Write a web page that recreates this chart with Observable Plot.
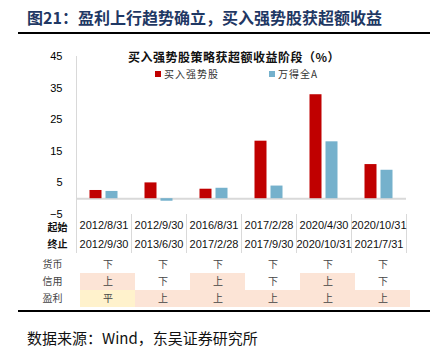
<!DOCTYPE html>
<html><head><meta charset="utf-8">
<script src="https://cdn.jsdelivr.net/npm/d3@7"></script>
<script src="https://cdn.jsdelivr.net/npm/@observablehq/plot@0.6"></script>
<style>
body{margin:0;background:#fff;}
#page{position:relative;width:439px;height:352px;overflow:hidden;font-family:"Noto Sans CJK SC",sans-serif;}
.abs{position:absolute;white-space:nowrap;}
#title{left:27px;top:6px;font-size:16px;font-weight:bold;color:#1F3864;line-height:22px;}
.hline{position:absolute;left:18px;width:412px;height:2px;background:#000;}
#ctitle{left:128px;top:49px;font-size:12px;font-weight:bold;color:#111;line-height:16px;letter-spacing:0.5px;}
.leg{top:67px;font-size:10px;line-height:14px;color:#333;letter-spacing:1px;}
.sw{display:inline-block;width:6px;height:6px;margin-right:3px;vertical-align:1px;}
#source{left:27px;top:328px;font-size:15px;line-height:20px;color:#111;}
#chart{position:absolute;left:0;top:40px;}
#table{position:absolute;left:0;top:256px;}
</style>
</head><body>
<div id="page">
  <div id="title" class="abs">图21：盈利上行趋势确立，买入强势股获超额收益</div>
  <div class="hline" style="top:32px"></div>
  <div id="chart"></div>
  <div id="table"></div>
  <div id="ctitle" class="abs"></div>
  <div id="leg1" class="abs leg" style="left:155px"></div>
  <div id="leg2" class="abs leg" style="left:269px"></div>
  <div class="hline" style="top:310px"></div>
  <div id="source" class="abs">数据来源：Wind，东吴证券研究所</div>
</div>
<script>
const chartTitle = "买入强势股策略获超额收益阶段（%）";
const seriesNames = ["买入强势股", "万得全A"];
const seriesColors = ["#C00000", "#75B1CC"];
const starts = ["2012/8/31","2012/9/30","2016/8/31","2017/2/28","2020/4/30","2020/10/31"];
const ends = ["2012/9/30","2013/6/30","2017/2/28","2017/9/30","2020/10/31","2021/7/31"];
const strongStocks = [2.6, 5.0, 3.0, 18.2, 32.9, 10.8];
const windA = [2.3, -0.8, 3.3, 4.0, 18.0, 9.0];
const yTicks = [-5, 5, 15, 25, 35, 45];
const dateRowLabels = ["起始", "终止"];
const rowNames = ["货币", "信用", "盈利"];
const money = ["下","下","下","下","下","下"];
const credit = ["上","下","上","下","上","下"];
const profit = ["平","上","上","上","上","上"];

document.getElementById("ctitle").textContent = chartTitle;
document.getElementById("leg1").innerHTML = `<span class="sw" style="background:${seriesColors[0]}"></span>${seriesNames[0]}`;
document.getElementById("leg2").innerHTML = `<span class="sw" style="background:${seriesColors[1]}"></span>${seriesNames[1]}`;

const W = 439, H = 220, mT = 16, mB = 46, mL = 76, mR = 33;
const frameH = H - mT - mB;
const bw = (W - mL - mR) / starts.length;
const sans = "Liberation Sans, Arial, sans-serif";
const cjk = "Noto Sans CJK SC, sans-serif";

const bars1 = starts.map((c, i) => ({cat: c, v: strongStocks[i]}));
const bars2 = starts.map((c, i) => ({cat: c, v: windA[i]}));

const chart = Plot.plot({
  width: W, height: H, marginTop: mT, marginBottom: mB, marginLeft: mL, marginRight: mR,
  style: {fontFamily: sans, fontSize: "11px", color: "#000", background: "transparent", overflow: "visible"},
  x: {domain: starts, padding: 0, axis: null},
  y: {domain: [-5, 45], ticks: yTicks, tickSize: 0, tickPadding: 14, label: null},
  marks: [
    Plot.ruleY([0], {stroke: "#d9d9d9", strokeWidth: 2}),
    Plot.ruleX([starts[0]], {x: d => d, dx: -bw/2, stroke: "#d9d9d9", insetBottom: -39}),
    Plot.ruleX(starts.slice(1), {x: d => d, dx: -bw/2, stroke: "#d9d9d9", insetTop: frameH, insetBottom: -39}),
    Plot.ruleX([starts[starts.length-1]], {x: d => d, dx: bw/2, stroke: "#d9d9d9", insetTop: frameH, insetBottom: -39}),
    Plot.barY(bars1, {x: "cat", y: "v", fill: seriesColors[0], insetLeft: 13.5, insetRight: 29.5}),
    Plot.barY(bars2, {x: "cat", y: "v", fill: seriesColors[1], insetLeft: 29.5, insetRight: 13.5}),
    Plot.text(starts, {x: d => d, text: d => d, frameAnchor: "bottom", dy: 14, fontSize: 11, fill: "#111"}),
    Plot.text(ends, {x: (d, i) => starts[i], text: d => d, frameAnchor: "bottom", dy: 33, fontSize: 11, fill: "#111"}),
    Plot.text([dateRowLabels[0]], {text: d => d, frameAnchor: "bottom-left", dx: -19, dy: 16, textAnchor: "middle", fontWeight: "bold", fontSize: 10, fontFamily: cjk, fill: "#111"}),
    Plot.text([dateRowLabels[1]], {text: d => d, frameAnchor: "bottom-left", dx: -19, dy: 33, textAnchor: "middle", fontWeight: "bold", fontSize: 10, fontFamily: cjk, fill: "#111"})
  ]
});
document.getElementById("chart").append(chart);

const rowsData = [money, credit, profit];
const cells = rowNames.flatMap((r, ri) => rowsData[ri].map((v, i) => ({row: r, cat: starts[i], v})));
const table = Plot.plot({
  width: W, height: 51, marginTop: 0, marginBottom: 0, marginLeft: 78, marginRight: 28,
  style: {fontFamily: cjk, fontSize: "10px", color: "#444", background: "transparent"},
  x: {domain: starts, padding: 0, axis: null},
  y: {domain: rowNames, padding: 0, tickSize: 0, tickPadding: 16, label: null},
  color: {domain: ["上", "平", "下"], range: ["#FCE4D6", "#FFF2CC", "#ffffff"]},
  marks: [
    Plot.cell(cells, {x: "cat", y: "row", fill: "v"}),
    Plot.text(cells, {x: "cat", y: "row", text: "v", fontSize: 10, fill: "#444"})
  ]
});
document.getElementById("table").append(table);
</script>
</body></html>
